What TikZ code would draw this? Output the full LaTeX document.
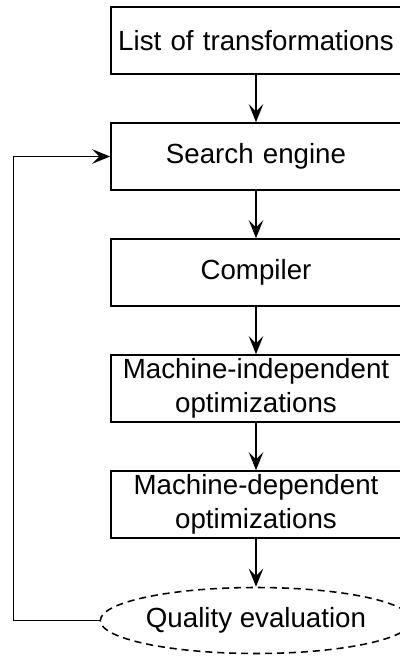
\documentclass[tikz,border=0pt]{standalone}
\usepackage{fontspec}
\setmainfont{Liberation Sans}
\usepackage{tikz}
\usetikzlibrary{shapes.geometric,arrows.meta}
\tikzstyle{stage} = [rectangle, minimum width=7.25cm, minimum height=1.675cm, text width=7cm, align=center, inner sep=1pt, draw=black, line width=1.1pt, font=\fontsize{19.7}{24.2}\selectfont]
\tikzstyle{evalnode} = [ellipse, minimum width=7.65cm, minimum height=1.65cm, inner sep=0pt, text centered, draw=black, dash pattern=on 5pt off 3.5pt, line width=1.1pt, font=\fontsize{19.7}{24.2}\selectfont]
\tikzstyle{arrow} = [line width=1.1pt,-{Stealth[length=4.5mm,width=3.6mm,inset=1.8mm]}]

\begin{document}
\begin{tikzpicture}[node distance=2.9cm]
        \useasboundingbox (0,0) rectangle (10,-16.4);
        \node (list) [stage] at (6.4,-1.0125) {List of transformations};
        \node (search) [stage, below of = list] {Search engine};
        \node (comp) [stage, below of = search] {Compiler};
        \node (indep) [stage, below of = comp] {Machine-independent\\optimizations};
        \node (dep) [stage, below of = indep] {Machine-dependent\\optimizations};
        \node (qual) [evalnode, below of = dep] {Quality evaluation};

        \draw [arrow] (list) -- (search);
        \draw [arrow] (search) -- (comp);
        \draw [arrow] (comp) -- (indep);
        \draw [arrow] (indep) -- (dep);
        \draw [arrow] (dep) -- (qual);
        \draw [arrow] (qual.west) -- +(-2.15cm,0) |- (search.west);
    \end{tikzpicture}
\end{document}
